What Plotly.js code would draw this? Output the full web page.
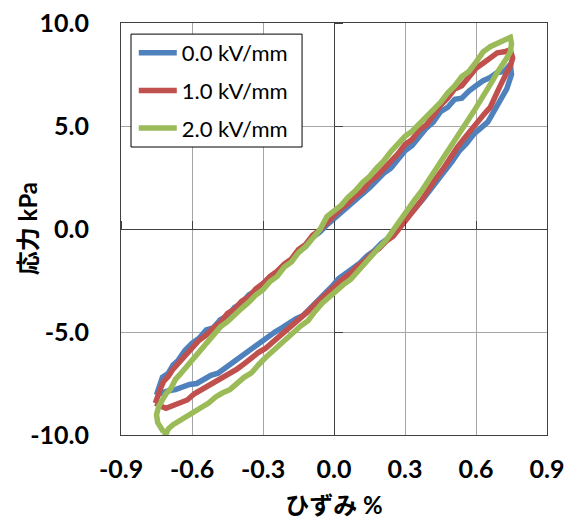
<!DOCTYPE html>
<html>
<head>
<meta charset="utf-8">
<script src="https://cdn.plot.ly/plotly-3.0.1.min.js"></script>
<style>html,body{margin:0;padding:0;background:#fff;}#chart{width:568px;height:519px;}</style>
</head>
<body>
<div id="chart"></div>
<script>
// Series names
var seriesNames = ['0.0 kV/mm', '1.0 kV/mm', '2.0 kV/mm'];

// 0.0 kV/mm (strain %, stress kPa)
var strain0 = [-0.75,-0.74,-0.725,-0.70,-0.68,-0.66,-0.63,-0.60,-0.57,-0.54,-0.51,-0.48,-0.45,-0.42,-0.39,-0.36,-0.33,-0.30,-0.27,-0.24,-0.21,-0.18,-0.15,-0.12,-0.09,-0.06,-0.03,0.0,0.03,0.06,0.09,0.12,0.15,0.18,0.21,0.24,0.27,0.30,0.33,0.36,0.39,0.42,0.45,0.48,0.51,0.54,0.57,0.60,0.63,0.66,0.69,0.72,0.745,
  0.75,0.74,0.73,0.71,0.69,0.67,0.65,0.62,0.59,0.56,0.53,0.50,0.47,0.44,0.41,0.38,0.35,0.32,0.29,0.26,0.23,0.20,0.17,0.14,0.11,0.08,0.05,0.02,-0.01,-0.04,-0.07,-0.10,-0.13,-0.16,-0.19,-0.22,-0.25,-0.28,-0.31,-0.34,-0.37,-0.40,-0.43,-0.46,-0.49,-0.52,-0.55,-0.58,-0.61,-0.64,-0.67,-0.70,-0.73,-0.75];
var stress0 = [-8.05,-7.7,-7.2,-7.0,-6.6,-6.4,-5.9,-5.55,-5.3,-4.9,-4.8,-4.4,-4.2,-3.8,-3.6,-3.2,-3.0,-2.65,-2.4,-2.1,-1.75,-1.5,-1.1,-0.85,-0.4,-0.15,0.2,0.5,0.75,1.1,1.35,1.7,2.0,2.35,2.7,2.95,3.4,3.8,4.05,4.5,4.9,5.2,5.7,5.9,6.3,6.35,6.7,6.95,7.2,7.35,7.6,7.65,8.0,
  7.5,7.1,6.8,6.4,6.0,5.6,5.2,4.9,4.6,4.15,3.8,3.3,2.85,2.3,1.95,1.5,1.1,0.65,0.3,-0.1,-0.45,-0.7,-1.05,-1.3,-1.65,-1.9,-2.15,-2.4,-2.8,-3.15,-3.5,-3.8,-4.2,-4.35,-4.6,-4.8,-5.0,-5.25,-5.5,-5.8,-6.0,-6.3,-6.5,-6.8,-7.0,-7.1,-7.3,-7.5,-7.55,-7.7,-7.8,-7.85,-7.95,-8.05];

// 1.0 kV/mm
var strain1 = [-0.755,-0.745,-0.735,-0.72,-0.70,-0.68,-0.66,-0.63,-0.60,-0.57,-0.54,-0.51,-0.48,-0.45,-0.42,-0.39,-0.36,-0.33,-0.30,-0.27,-0.24,-0.21,-0.18,-0.15,-0.12,-0.09,-0.06,-0.03,0.0,0.03,0.06,0.09,0.12,0.15,0.18,0.21,0.24,0.27,0.30,0.33,0.36,0.39,0.42,0.45,0.48,0.51,0.54,0.57,0.60,0.63,0.66,0.69,0.72,0.745,
  0.755,0.745,0.73,0.715,0.70,0.68,0.66,0.64,0.61,0.58,0.55,0.52,0.49,0.46,0.43,0.40,0.37,0.34,0.31,0.28,0.25,0.22,0.19,0.16,0.13,0.10,0.07,0.04,0.01,-0.02,-0.05,-0.08,-0.11,-0.14,-0.17,-0.20,-0.23,-0.26,-0.29,-0.32,-0.35,-0.38,-0.41,-0.44,-0.47,-0.50,-0.53,-0.56,-0.59,-0.62,-0.65,-0.68,-0.71,-0.73,-0.745,-0.755];
var stress1 = [-8.45,-8.0,-7.8,-7.4,-7.15,-6.8,-6.55,-6.1,-5.8,-5.4,-5.15,-4.8,-4.55,-4.1,-3.9,-3.5,-3.3,-2.9,-2.65,-2.3,-2.05,-1.7,-1.45,-1.0,-0.75,-0.3,-0.05,0.3,0.65,1.0,1.25,1.6,1.85,2.3,2.55,2.9,3.3,3.65,4.1,4.35,4.8,5.05,5.5,6.0,6.35,6.8,6.95,7.4,7.8,8.05,8.3,8.55,8.6,8.7,
  8.3,7.9,7.6,7.3,6.9,6.4,5.9,5.65,5.25,4.9,4.4,3.95,3.4,2.9,2.45,1.9,1.4,0.95,0.5,0.0,-0.35,-0.6,-0.95,-1.2,-1.55,-1.8,-2.15,-2.4,-2.7,-3.0,-3.3,-3.65,-4.0,-4.3,-4.55,-4.9,-5.2,-5.45,-5.8,-6.0,-6.3,-6.55,-6.8,-7.0,-7.2,-7.4,-7.55,-7.8,-8.0,-8.3,-8.45,-8.6,-8.7,-8.6,-8.5,-8.45];

// 2.0 kV/mm
var strain2 = [-0.72,-0.745,-0.75,-0.74,-0.725,-0.71,-0.69,-0.67,-0.65,-0.62,-0.60,-0.57,-0.54,-0.51,-0.48,-0.45,-0.42,-0.39,-0.36,-0.33,-0.30,-0.27,-0.24,-0.21,-0.18,-0.15,-0.12,-0.09,-0.06,-0.03,0.0,0.03,0.06,0.09,0.12,0.15,0.18,0.21,0.24,0.27,0.30,0.33,0.36,0.39,0.42,0.45,0.48,0.51,0.54,0.57,0.60,0.63,0.66,0.69,0.72,0.745,
  0.75,0.745,0.73,0.71,0.69,0.67,0.65,0.63,0.61,0.59,0.57,0.55,0.52,0.49,0.46,0.43,0.40,0.37,0.34,0.31,0.28,0.25,0.22,0.19,0.16,0.13,0.10,0.07,0.04,0.01,-0.02,-0.05,-0.08,-0.11,-0.14,-0.17,-0.20,-0.23,-0.26,-0.29,-0.32,-0.35,-0.38,-0.41,-0.44,-0.47,-0.50,-0.53,-0.56,-0.59,-0.62,-0.65,-0.68,-0.70,-0.71,-0.72];
var stress2 = [-9.85,-9.4,-9.0,-8.6,-8.3,-8.0,-7.75,-7.3,-7.05,-6.65,-6.35,-6.0,-5.5,-5.2,-4.75,-4.5,-4.15,-3.85,-3.55,-3.2,-2.95,-2.55,-2.3,-1.85,-1.6,-1.15,-0.85,-0.4,-0.05,0.6,0.9,1.15,1.55,1.85,2.25,2.55,2.95,3.3,3.75,4.1,4.5,4.75,5.1,5.4,5.8,6.15,6.6,6.95,7.4,7.65,8.1,8.6,8.85,9.0,9.15,9.3,
  9.0,8.6,8.3,8.0,7.6,7.2,6.8,6.45,6.1,5.7,5.35,5.0,4.45,3.9,3.4,2.85,2.4,1.85,1.4,0.9,0.4,-0.1,-0.55,-0.9,-1.3,-1.65,-2.0,-2.45,-2.7,-3.0,-3.35,-3.6,-4.0,-4.45,-4.7,-5.0,-5.3,-5.65,-5.95,-6.25,-6.6,-7.0,-7.2,-7.5,-7.8,-7.95,-8.15,-8.45,-8.65,-8.9,-9.05,-9.3,-9.5,-9.7,-9.95,-9.85];

// Axis ticks
var xTickVals = [-0.9,-0.6,-0.3,0.0,0.3,0.6,0.9];
var xTickText = ['-0.9','-0.6','-0.3','0.0','0.3','0.6','0.9'];
var yTickVals = [-10,-5,0,5,10];
var yTickText = ['-10.0','-5.0','0.0','5.0','10.0'];

var colors = ['#4F81BD', '#C0504D', '#9BBB59'];
var xs = [strain0, strain1, strain2];
var ys = [stress0, stress1, stress2];

var traces = [];
for (var i = 0; i < 3; i++) {
  traces.push({
    type: 'scatter', mode: 'lines', x: xs[i], y: ys[i],
    name: seriesNames[i], legendgroup: 'g' + i,
    line: {color: colors[i], width: 5.5},
    xaxis: 'x', yaxis: 'y'
  });
}
// empty helper trace so the zero-crossing tick axes are drawn
traces.push({type: 'scatter', mode: 'lines', x: [], y: [], xaxis: 'x2', yaxis: 'y2',
  showlegend: false, hoverinfo: 'skip'});

var tickFont = {family: 'Lato, "Noto Sans CJK JP", sans-serif', size: 25, color: '#000', weight: 'bold'};
var titleFont = {family: 'Lato, "Noto Sans CJK JP", sans-serif', size: 24, color: '#000', weight: 'bold'};

var layout = {
  width: 568, height: 519,
  margin: {l: 121, r: 21, t: 23, b: 84},
  paper_bgcolor: '#fff', plot_bgcolor: '#fff',
  showlegend: true,
  legend: {
    x: 0.03, y: 0.978, xanchor: 'left', yanchor: 'top',
    bgcolor: 'rgba(0,0,0,0)', borderwidth: 0,
    font: {family: 'Lato, sans-serif', size: 22, color: '#000'},
    traceorder: 'grouped', tracegroupgap: 6, itemwidth: 38
  },
  shapes: [{
    type: 'rect', xref: 'paper', yref: 'paper', layer: 'above',
    x0: 0.0235, x1: 0.425, y0: 0.699, y1: 0.973,
    fillcolor: '#fff', line: {color: '#000', width: 1}
  }],
  xaxis: {
    range: [-0.9, 0.9], tickvals: xTickVals, ticktext: xTickText,
    showgrid: true, gridcolor: '#a6a6a6', gridwidth: 1,
    zeroline: true, zerolinecolor: '#404040', zerolinewidth: 1,
    showline: true, linecolor: '#404040', linewidth: 1, mirror: true,
    ticks: '', tickfont: tickFont, ticklabelstandoff: 12,
    title: {text: 'ひずみ %', font: titleFont, standoff: 17},
    fixedrange: true
  },
  yaxis: {
    range: [-10, 10], tickvals: yTickVals, ticktext: yTickText,
    showgrid: true, gridcolor: '#a6a6a6', gridwidth: 1,
    zeroline: true, zerolinecolor: '#404040', zerolinewidth: 1,
    showline: true, linecolor: '#404040', linewidth: 1, mirror: true,
    ticks: '', tickfont: tickFont, ticklabelstandoff: 26,
    fixedrange: true
  },
  xaxis2: {
    overlaying: 'x', anchor: 'free', position: 0.5, side: 'top',
    range: [-0.9, 0.9], tickvals: xTickVals, showticklabels: false,
    ticks: 'outside', ticklen: 8, tickcolor: '#404040', tickwidth: 1,
    showgrid: false, zeroline: false, showline: false, fixedrange: true
  },
  yaxis2: {
    overlaying: 'y', anchor: 'free', position: 0.5, side: 'right',
    range: [-10, 10], tickvals: yTickVals, showticklabels: false,
    ticks: 'outside', ticklen: 8, tickcolor: '#404040', tickwidth: 1,
    showgrid: false, zeroline: false, showline: false, fixedrange: true
  },
  annotations: [{
    text: '応力 kPa', textangle: -90, xref: 'paper', yref: 'paper',
    x: -0.22, y: 0.5, xanchor: 'center', yanchor: 'middle',
    showarrow: false, font: titleFont
  }]
};

Plotly.newPlot('chart', traces, layout, {staticPlot: true, displayModeBar: false});
</script>
</body>
</html>
